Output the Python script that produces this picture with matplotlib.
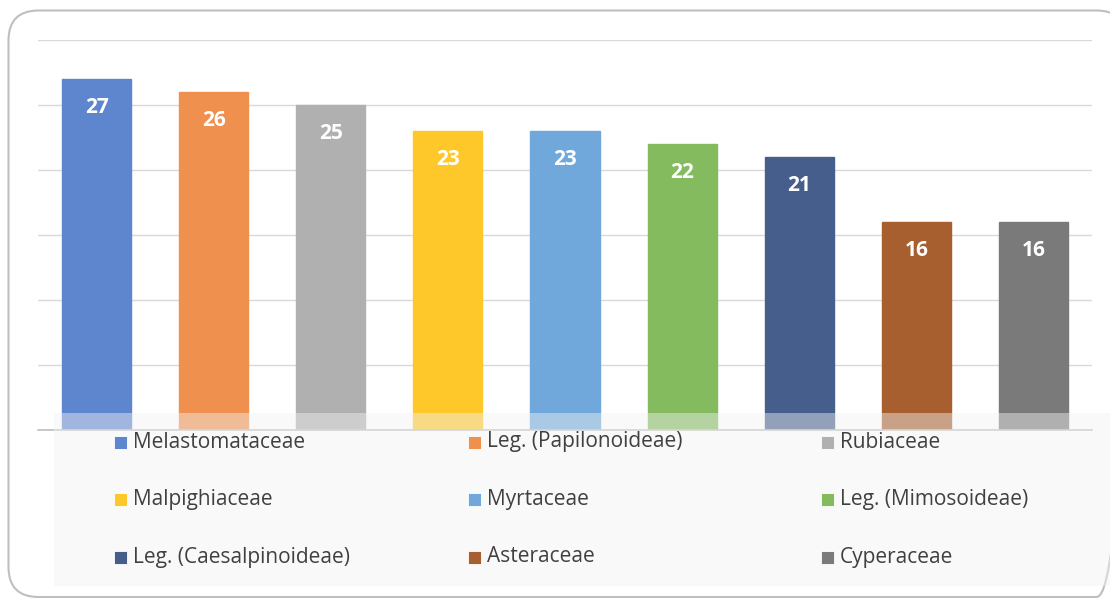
import matplotlib.pyplot as plt
from matplotlib.patches import FancyBboxPatch, Rectangle

families = ["Melastomataceae", "Leg. (Papilonoideae)", "Rubiaceae",
            "Malpighiaceae", "Myrtaceae", "Leg. (Mimosoideae)",
            "Leg. (Caesalpinoideae)", "Asteraceae", "Cyperaceae"]
counts = [27, 26, 25, 23, 23, 22, 21, 16, 16]
colors = ["#5e86ce", "#f0904f", "#b0b0b0", "#ffc82a", "#70a8dc",
          "#84bb5f", "#465e8c", "#a85f30", "#7a7a7a"]

W, H = 1110, 598
plt.rcParams["font.family"] = ["Open Sans", "DejaVu Sans"]
fig = plt.figure(figsize=(W / 100, H / 100), dpi=100)

# main bar chart
ax = fig.add_axes([38 / W, (H - 430) / H, 1054 / W, 390 / H])
ax.bar(range(len(counts)), counts, width=0.59, color=colors,
       edgecolor=colors, linewidth=1, zorder=2)

for i, v in enumerate(counts):
    ax.annotate(str(v), (i, v), xytext=(0, -20.5), textcoords="offset points",
                ha="center", va="center", color="white", fontsize=15,
                fontweight="bold", zorder=3)

ax.set_xlim(-0.5, len(counts) - 0.5)
ax.set_ylim(0, 30)
ax.set_yticks(range(0, 31, 5))
ax.yaxis.grid(True, color="#d9d9d9", linewidth=1)
ax.set_axisbelow(True)
ax.set_xticks([])
ax.tick_params(left=False, labelleft=False)
for s in ["top", "left", "right"]:
    ax.spines[s].set_visible(False)
ax.spines["bottom"].set_color("#bfbfbf")
ax.spines["bottom"].set_linewidth(1.2)

# overlay in pixel coordinates: frame + legend box
ov = fig.add_axes([0, 0, 1, 1], zorder=5)
ov.set_xlim(0, W)
ov.set_ylim(H, 0)
ov.axis("off")
ov.patch.set_alpha(0)

ov.add_patch(FancyBboxPatch((8.5, 10.5), 1118, 586.5,
                            boxstyle="round,pad=0,rounding_size=30",
                            facecolor="none", edgecolor="#bfbfbf",
                            linewidth=1.5, clip_on=False))

ov.add_patch(Rectangle((54, 413), 1060, 173, facecolor="#f2f2f2",
                       alpha=0.45, linewidth=0))

# legend entries, row by row
col_x = [114, 468, 821]
row_y = [442, 499, 557]
for k, (name, c) in enumerate(zip(families, colors)):
    x = col_x[k % 3]
    y = row_y[k // 3]
    ov.add_patch(Rectangle((x, y - 6.5), 13, 13, facecolor=c,
                           edgecolor="white", linewidth=0.6))
    ov.text(x + 19, y, name, fontsize=15, color="#404040",
            ha="left", va="center")

fig.savefig("out.png", dpi=100)
